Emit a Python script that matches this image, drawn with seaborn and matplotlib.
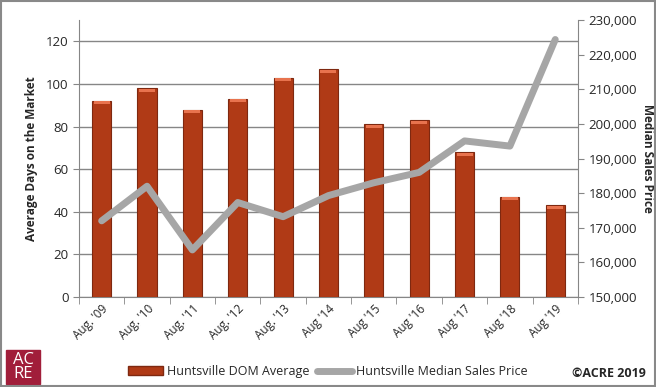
import pandas as pd
import seaborn as sns
import matplotlib.pyplot as plt
from matplotlib.patches import Rectangle, Patch
from matplotlib.lines import Line2D

# data
periods = ["Aug. '09", "Aug. '10", "Aug. '11", "Aug. '12", "Aug. '13", "Aug '14",
           "Aug '15", "Aug '16", "Aug '17", "Aug '18", "Aug '19"]
dom_avg = [92, 98, 88, 93, 103, 107, 81, 83, 68, 47, 43]
median_price = [172000, 182000, 163600, 177300, 173200, 179300,
                183000, 186000, 195100, 193600, 224400]

df = pd.DataFrame({'period': periods, 'dom': dom_avg, 'price': median_price})

sns.set_style('white')
plt.rcParams['font.family'] = ['Open Sans', 'DejaVu Sans']

fig = plt.figure(figsize=(6.56, 3.87), dpi=100)
ax = fig.add_axes([0.1204, 0.2326, 0.7606, 0.7154])

sns.barplot(data=df, x='period', y='dom', color='#B03A16', width=0.42,
            edgecolor='#7E2810', linewidth=0.8, saturation=1, ax=ax, zorder=3)
# lighter bevel on bar tops
for bar in ax.patches:
    x0, w, h = bar.get_x(), bar.get_width(), bar.get_height()
    ax.add_patch(Rectangle((x0 + w * 0.08, h - 1.6), w * 0.84, 1.4,
                           color='#E8734E', lw=0, zorder=4))

ax.set_ylim(0, 130)
ax.set_yticks(range(0, 121, 20))
ax.set_xlim(-0.5, len(periods) - 0.5)
ax.yaxis.grid(True, color='#868686', lw=1)
ax.set_axisbelow(True)
ax.set_xlabel('')
ax.set_ylabel('Average Days on the Market', fontsize=8.5, fontweight='bold', labelpad=6)
ax.set_xticks([i - 0.5 for i in range(len(periods) + 1)], minor=True)
ax.tick_params(axis='x', which='minor', length=5, color='#868686', bottom=True)
ax.tick_params(axis='x', which='major', length=0, labelsize=8.5, pad=4)
ax.tick_params(axis='y', length=4, color='#868686', left=True, labelsize=9.5)
plt.setp(ax.get_xticklabels(), rotation=45, ha='right', rotation_mode='anchor')
for s in ['top', 'right']:
    ax.spines[s].set_visible(False)
for s in ['left', 'bottom']:
    ax.spines[s].set_color('#868686')

ax2 = ax.twinx()
sns.lineplot(x=list(range(len(periods))), y=median_price, color='#A6A6A6',
             lw=5, ax=ax2, zorder=5)
ax2.set_ylim(150000, 230000)
ax2.set_yticks(range(150000, 230001, 10000))
ax2.set_yticklabels([f'{v:,}' for v in range(150000, 230001, 10000)])
ax2.set_ylabel('Median Sales Price', fontsize=8.5, fontweight='bold',
               rotation=-90, labelpad=12)
ax2.tick_params(axis='y', length=4, color='#868686', right=True, labelsize=9.5)
for s in ['top', 'left', 'bottom']:
    ax2.spines[s].set_visible(False)
ax2.spines['right'].set_color('#868686')

handles = [Patch(facecolor='#B03A16', edgecolor='#7E2810'),
           Line2D([], [], color='#A6A6A6', lw=5)]
fig.legend(handles, ['Huntsville DOM Average', 'Huntsville Median Sales Price'],
           loc='center', bbox_to_anchor=(0.5, 0.04), ncol=2, frameon=False,
           fontsize=9, handlelength=2.8, columnspacing=0.6, handletextpad=0.3)

# ACRE logo
fig.patches.append(Rectangle((6 / 656, 3 / 387), 34 / 656, 34 / 387,
                             transform=fig.transFigure, color='#A11E3A'))
fig.text(23 / 656, 20 / 387, 'AC\nRE', color='white', fontsize=12,
         ha='center', va='center', linespacing=0.85)
fig.text(0.985, 0.035, '©ACRE 2019', ha='right', va='center', fontsize=9,
         fontweight='bold')

# outer frame
fig.patches.append(Rectangle((0.002, 0.003), 0.996, 0.994, transform=fig.transFigure,
                             fill=False, edgecolor='#898989', lw=1.5))

fig.savefig('out.png', dpi=100)
